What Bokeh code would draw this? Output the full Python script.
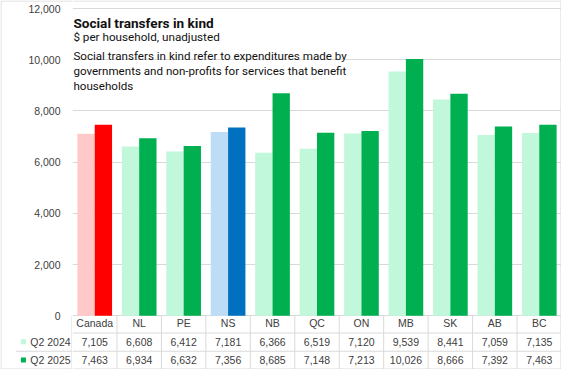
from bokeh.plotting import figure
from bokeh.layouts import row
from bokeh.models import ColumnDataSource, FactorRange, Range1d, FixedTicker, Label
from bokeh.transform import dodge
from bokeh.core.properties import value
from bokeh.embed import file_html
from bokeh.resources import INLINE

# ---------------- data ----------------
categories = ["Canada", "NL", "PE", "NS", "NB", "QC", "ON", "MB", "SK", "AB", "BC"]
q2_2024 = [7105, 6608, 6412, 7181, 6366, 6519, 7120, 9539, 8441, 7059, 7135]
q2_2025 = [7463, 6934, 6632, 7356, 8685, 7148, 7213, 10026, 8666, 7392, 7463]
series_names = ["Q2 2024", "Q2 2025"]
y_ticks = [0, 2000, 4000, 6000, 8000, 10000, 12000]
title_text = "Social transfers in kind"
subtitle_text = "$ per household, unadjusted"
note_lines = [
    "Social transfers in kind refer to expenditures made by",
    "governments and non-profits for services that benefit",
    "households",
]

# ---------------- styles ----------------
LIGHT_GREEN, DARK_GREEN = "#C1F7DA", "#00B050"
light_special = {"Canada": "#FFC9C9", "NS": "#BDDDF7"}
dark_special = {"Canada": "#FF0000", "NS": "#0070C0"}
colors_2024 = [light_special.get(c, LIGHT_GREEN) for c in categories]
colors_2025 = [dark_special.get(c, DARK_GREEN) for c in categories]
GRID = "#D9D9D9"
TXT = "#404040"
TABLE_FONT = "Liberation Sans"
TABLE_SIZE = "10.5px"
HEAD_FONT = "Roboto"

# layout constants (value-space positions of table rows below zero, px widths)
H = 369
LEFT_W, MAIN_W = 72, 489
Y_MIN, Y_MAX = -2100, 12312.5
UNITS_PER_PX = (Y_MAX - Y_MIN) / H
ROW_LINES = [-675, -1387]
ROW_TEXT_Y = [-300, -1012, -1725]
EDGE_TOP = Y_MAX - 0.5 * UNITS_PER_PX
EDGE_BOT = Y_MIN + 0.5 * UNITS_PER_PX

y_range = Range1d(Y_MIN, Y_MAX)

src = ColumnDataSource(dict(
    cat=categories,
    v24=q2_2024, v25=q2_2025,
    t24=[f"{v:,}" for v in q2_2024], t25=[f"{v:,}" for v in q2_2025],
    c24=colors_2024, c25=colors_2025,
))


def bare(fig):
    fig.axis.visible = False
    fig.grid.visible = False
    fig.outline_line_color = None
    fig.background_fill_color = "white"
    fig.border_fill_color = "white"


# ---------------- left panel: value labels + row headers ----------------
left = figure(width=LEFT_W, height=H, x_range=Range1d(0, LEFT_W), y_range=y_range,
              output_backend="svg", toolbar_location=None,
              min_border_left=0, min_border_right=0, min_border_top=0, min_border_bottom=0)
bare(left)
left.text(x=[60] * len(y_ticks), y=y_ticks, text=[f"{t:,}" for t in y_ticks],
          text_font=value(TABLE_FONT), text_font_size=TABLE_SIZE, text_color=TXT,
          text_align="right", text_baseline="middle")
left.text(x=[29.8] * 2, y=ROW_TEXT_Y[1:], text=series_names,
          text_font=value(TABLE_FONT), text_font_size=TABLE_SIZE, text_color=TXT,
          text_align="left", text_baseline="middle")
left.scatter(x=[22.9] * 2, y=ROW_TEXT_Y[1:], marker="square", size=5,
             fill_color=[LIGHT_GREEN, DARK_GREEN], line_color=None)
# table lines + chart border (left part)
left.segment(x0=[15.6, 71.5, 0.5, 0.5, 0.5], x1=[LEFT_W, 71.5, 0.5, LEFT_W, LEFT_W],
             y0=[ROW_LINES[1], 0, EDGE_TOP, EDGE_TOP, EDGE_BOT],
             y1=[ROW_LINES[1], Y_MIN, EDGE_BOT, EDGE_TOP, EDGE_BOT],
             line_color=GRID, line_width=1)

# ---------------- main plot ----------------
p = figure(width=MAIN_W, height=H,
           x_range=FactorRange(*categories, range_padding=0), y_range=y_range,
           output_backend="svg", toolbar_location=None,
           min_border_left=0, min_border_right=0, min_border_top=0, min_border_bottom=0)
bare(p)
p.ygrid.visible = True
p.ygrid.ticker = FixedTicker(ticks=y_ticks)
p.ygrid.grid_line_color = GRID

p.vbar(x=dodge("cat", -0.195, range=p.x_range), top="v24", width=0.39,
       fill_color="c24", line_color=None, source=src)
p.vbar(x=dodge("cat", 0.195, range=p.x_range), top="v25", width=0.39,
       fill_color="c25", line_color=None, source=src)

# data table grid
bounds = list(range(1, 11))
p.segment(x0=bounds, y0=[0] * len(bounds), x1=bounds, y1=[Y_MIN] * len(bounds),
          line_color=GRID, line_width=1)
r_edge = 11 - 0.5 * 11 / MAIN_W
p.segment(x0=[0, 0, 0, 0, r_edge], x1=[11, 11, 11, 11, r_edge],
          y0=[ROW_LINES[0], ROW_LINES[1], EDGE_TOP, EDGE_BOT, EDGE_TOP],
          y1=[ROW_LINES[0], ROW_LINES[1], EDGE_TOP, EDGE_BOT, EDGE_BOT],
          line_color=GRID, line_width=1)

common = dict(text_font=value(TABLE_FONT), text_font_size=TABLE_SIZE,
              text_color=TXT, text_align="center", text_baseline="middle")
p.text(x="cat", y=ROW_TEXT_Y[0], text="cat", source=src, **common)
p.text(x="cat", y=ROW_TEXT_Y[1], text="t24", source=src, **common)
p.text(x="cat", y=ROW_TEXT_Y[2], text="t25", source=src, **common)

# title block
p.add_layout(Label(x=0.02, y=11449, text=title_text, text_font=HEAD_FONT,
                   text_font_size="13.6px", text_font_style="bold",
                   text_color="#111111", text_baseline="alphabetic"))
p.add_layout(Label(x=0.02, y=10886, text=subtitle_text, text_font=HEAD_FONT,
                   text_font_size="11.7px", text_color="#111111",
                   text_baseline="alphabetic"))
for i, line in enumerate(note_lines):
    p.add_layout(Label(x=0.02, y=10162 - 600 * i, text=line, text_font=HEAD_FONT,
                       text_font_size="11.6px", text_color="#111111",
                       text_baseline="alphabetic"))

layout = row(left, p, spacing=0)
open("out.html", "w").write(file_html(layout, INLINE))
